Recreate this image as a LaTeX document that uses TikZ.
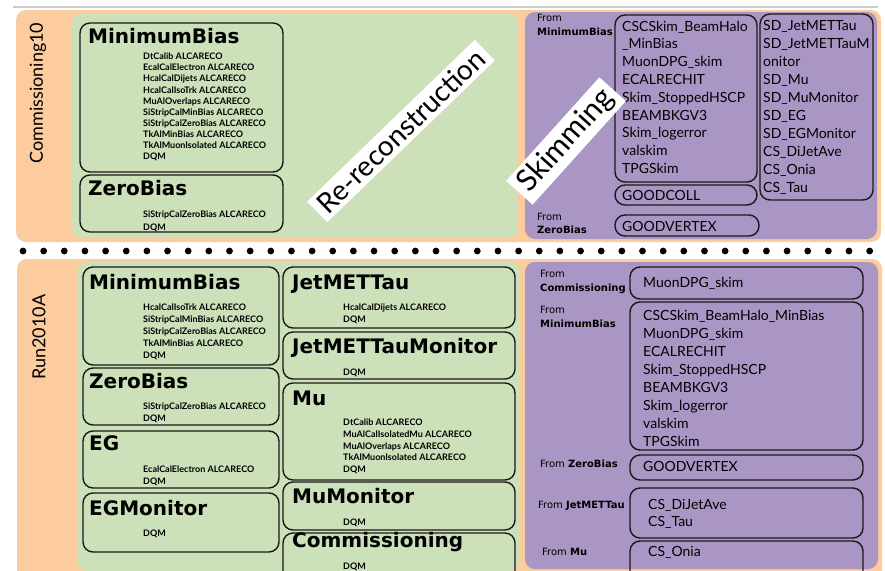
\documentclass[tikz,border=0pt]{standalone}
\usepackage{fontspec}
\setmainfont{Lato}
\newfontfamily\heavy{DejaVu Sans}
\definecolor{peach}{RGB}{252,203,158}
\definecolor{leaf}{RGB}{204,224,185}
\definecolor{lilac}{RGB}{169,150,196}
\tikzset{
  panel/.style={rounded corners=10pt},
  dsbox/.style={draw=black!90, line width=1.4pt, rounded corners=10pt, anchor=north west, inner sep=0pt, outer sep=0pt},
  dstitle/.style={anchor=base west, inner sep=0pt, font=\heavy\bfseries\fontsize{20}{24}\selectfont},
  alca/.style={anchor=west, inner sep=0pt, align=left, font=\bfseries\fontsize{9}{12}\selectfont},
  skim/.style={anchor=west, inner sep=0pt, align=left, font=\fontsize{14}{18}\selectfont},
  from/.style={anchor=west, inner sep=0pt, align=left, font=\heavy\fontsize{10}{13.5}\selectfont},
  side/.style={rotate=90, inner sep=0pt, font=\fontsize{18}{20}\selectfont},
  stage/.style={fill=white, inner xsep=6pt, inner ysep=4pt, font=\fontsize{28}{30}\selectfont},
}

\begin{document}
\begin{tikzpicture}[x=1pt,y=-1pt]
  \clip (0,0) rectangle (885,570);
  \draw[black!20, line width=1.5pt] (13,7) -- (878,7);

  % Commissioning10
  \fill[peach, panel] (16,10) rectangle (881,242);
  \fill[leaf, panel] (72,13) rectangle (518,238);
  \fill[lilac, panel] (525,12) rectangle (877,239);
  \node[side] (comm) at (38,93) {Commissioning10};

  \node[dsbox, minimum width=203pt, minimum height=149pt] (cmb) at (80,23) {};
  \node[dstitle] (cmbT) at (88,43) {MinimumBias};
  \node[alca, font=\bfseries\fontsize{9}{11.1}\selectfont] (cmbL) at (143,107) {DtCalib ALCARECO\\EcalCalElectron ALCARECO\\HcalCalDijets ALCARECO\\HcalCalIsoTrk ALCARECO\\MuAlOverlaps ALCARECO\\SiStripCalMinBias ALCARECO\\SiStripCalZeroBias ALCARECO\\TkAlMinBias ALCARECO\\TkAlMuonIsolated ALCARECO\\DQM};
  \node[dsbox, minimum width=203pt, minimum height=57pt] (czb) at (80,175) {};
  \node[dstitle] (czbT) at (88,195) {ZeroBias};
  \node[alca, font=\bfseries\fontsize{9}{13}\selectfont] (czbL) at (143,221.5) {SiStripCalZeroBias ALCARECO\\DQM};

  \node[from] (cfmb) at (537,25) {From\\\textbf{MinimumBias}};
  \node[dsbox, minimum width=142pt, minimum height=167pt] (cskA) at (615,15) {};
  \node[skim, font=\fontsize{14}{17.8}\selectfont] (cskAL) at (622,97.2) {CSCSkim\_BeamHalo\\\_MinBias\\MuonDPG\_skim\\ECALRECHIT\\Skim\_StoppedHSCP\\BEAMBKGV3\\Skim\_logerror\\valskim\\TPGSkim};
  \node[dsbox, minimum width=142pt, minimum height=20pt] (cgc) at (615,185) {};
  \node[skim] (cgcL) at (622,195) {GOODCOLL};
  \node[dsbox, minimum width=113pt, minimum height=186pt] (cskB) at (760,14) {};
  \node[skim] (cskBL) at (763,107.2) {SD\_JetMETTau\\SD\_JetMETTauM\\onitor\\SD\_Mu\\SD\_MuMonitor\\SD\_EG\\SD\_EGMonitor\\CS\_DiJetAve\\CS\_Onia\\CS\_Tau};
  \node[from] (cfzb) at (537,223.3) {From\\\textbf{ZeroBias}};
  \node[dsbox, minimum width=144pt, minimum height=21pt] (cgv) at (615,215) {};
  \node[skim] (cgvL) at (622,226) {GOODVERTEX};

  \node[stage, rotate=44] (rereco) at (401,131) {Re-reconstruction};
  \node[stage, rotate=48, font=\fontsize{30}{32}\selectfont] (skimming) at (566,141) {Skimming};

  % separator
  \foreach \i in {0,...,41}
    \fill ({23+20.65*\i},251) circle (3.4pt);

  % Run2010A
  \fill[peach, panel] (17,259) rectangle (882,590);
  \fill[leaf, panel] (77,262) rectangle (520,571);
  \fill[lilac, panel] (525,262) rectangle (878,569);
  \node[side] (run) at (39,337) {Run2010A};

  \node[dsbox, minimum width=196pt, minimum height=98pt] (rmb) at (83,267) {};
  \node[dstitle] (rmbT) at (89,289) {MinimumBias};
  \node[alca] (rmbL) at (143,332) {HcalCalIsoTrk ALCARECO\\SiStripCalMinBias ALCARECO\\SiStripCalZeroBias ALCARECO\\TkAlMinBias ALCARECO\\DQM};
  \node[dsbox, minimum width=196pt, minimum height=57pt] (rzb) at (83,368) {};
  \node[dstitle] (rzbT) at (89,388) {ZeroBias};
  \node[alca] (rzbL) at (143,413) {SiStripCalZeroBias ALCARECO\\DQM};
  \node[dsbox, minimum width=196pt, minimum height=57pt] (reg) at (83,431) {};
  \node[dstitle] (regT) at (89,450) {EG};
  \node[alca] (regL) at (143,475.5) {EcalCalElectron ALCARECO\\DQM};
  \node[dsbox, minimum width=196pt, minimum height=59pt] (regm) at (83,493) {};
  \node[dstitle] (regmT) at (89,515) {EGMonitor};
  \node[alca] (regmL) at (143,534) {DQM};

  \node[dsbox, minimum width=232pt, minimum height=61pt] (rjet) at (283,267) {};
  \node[dstitle] (rjetT) at (292,289) {JetMETTau};
  \node[alca] (rjetL) at (343,313.8) {HcalCalDijets ALCARECO\\DQM};
  \node[dsbox, minimum width=232pt, minimum height=47pt] (rjetm) at (283,332) {};
  \node[dstitle] (rjetmT) at (292,353) {JetMETTauMonitor};
  \node[alca] (rjetmL) at (343,372.7) {DQM};
  \node[dsbox, minimum width=232pt, minimum height=97pt] (rmu) at (283,383) {};
  \node[dstitle] (rmuT) at (292,405) {Mu};
  \node[alca, font=\bfseries\fontsize{9}{11.8}\selectfont] (rmuL) at (343,446.3) {DtCalib ALCARECO\\MuAlCalIsolatedMu ALCARECO\\MuAlOverlaps ALCARECO\\TkAlMuonIsolated ALCARECO\\DQM};
  \node[dsbox, minimum width=232pt, minimum height=48pt] (rmum) at (283,482) {};
  \node[dstitle] (rmumT) at (292,503) {MuMonitor};
  \node[alca] (rmumL) at (343,523.3) {DQM};
  \node[dsbox, minimum width=232pt, minimum height=50pt] (rcom) at (283,533) {};
  \node[dstitle] (rcomT) at (292,547) {Commissioning};
  \node[alca] (rcomL) at (343,566.7) {DQM};

  \node[from] (rfcom) at (540,282) {From\\\textbf{Commissioning}};
  \node[dsbox, minimum width=233pt, minimum height=32pt] (rdpg) at (630,267) {};
  \node[skim] (rdpgL) at (643,283.3) {MuonDPG\_skim};
  \node[from] (rfmb) at (540,317) {From\\\textbf{MinimumBias}};
  \node[dsbox, minimum width=233pt, minimum height=148pt] (rska) at (630,302) {};
  \node[skim, font=\fontsize{14}{18.1}\selectfont] (rskaL) at (643,378.3) {CSCSkim\_BeamHalo\_MinBias\\MuonDPG\_skim\\ECALRECHIT\\Skim\_StoppedHSCP\\BEAMBKGV3\\Skim\_logerror\\valskim\\TPGSkim};
  \node[from] (rfzb) at (540,463.3) {From \textbf{ZeroBias}};
  \node[dsbox, minimum width=233pt, minimum height=25pt] (rgv) at (630,455) {};
  \node[skim] (rgvL) at (643,466) {GOODVERTEX};
  \node[from] (rfjet) at (538,506) {From \textbf{JetMETTau}};
  \node[dsbox, minimum width=233pt, minimum height=50pt] (rcs) at (630,488) {};
  \node[skim, font=\fontsize{14}{17}\selectfont] (rcsL) at (648,513.5) {CS\_DiJetAve\\CS\_Tau};
  \node[from] (rfmu) at (542,552) {From \textbf{Mu}};
  \node[dsbox, minimum width=233pt, minimum height=40pt] (ronia) at (630,541) {};
  \node[skim] (roniaL) at (648,552) {CS\_Onia};
\end{tikzpicture}
\end{document}
